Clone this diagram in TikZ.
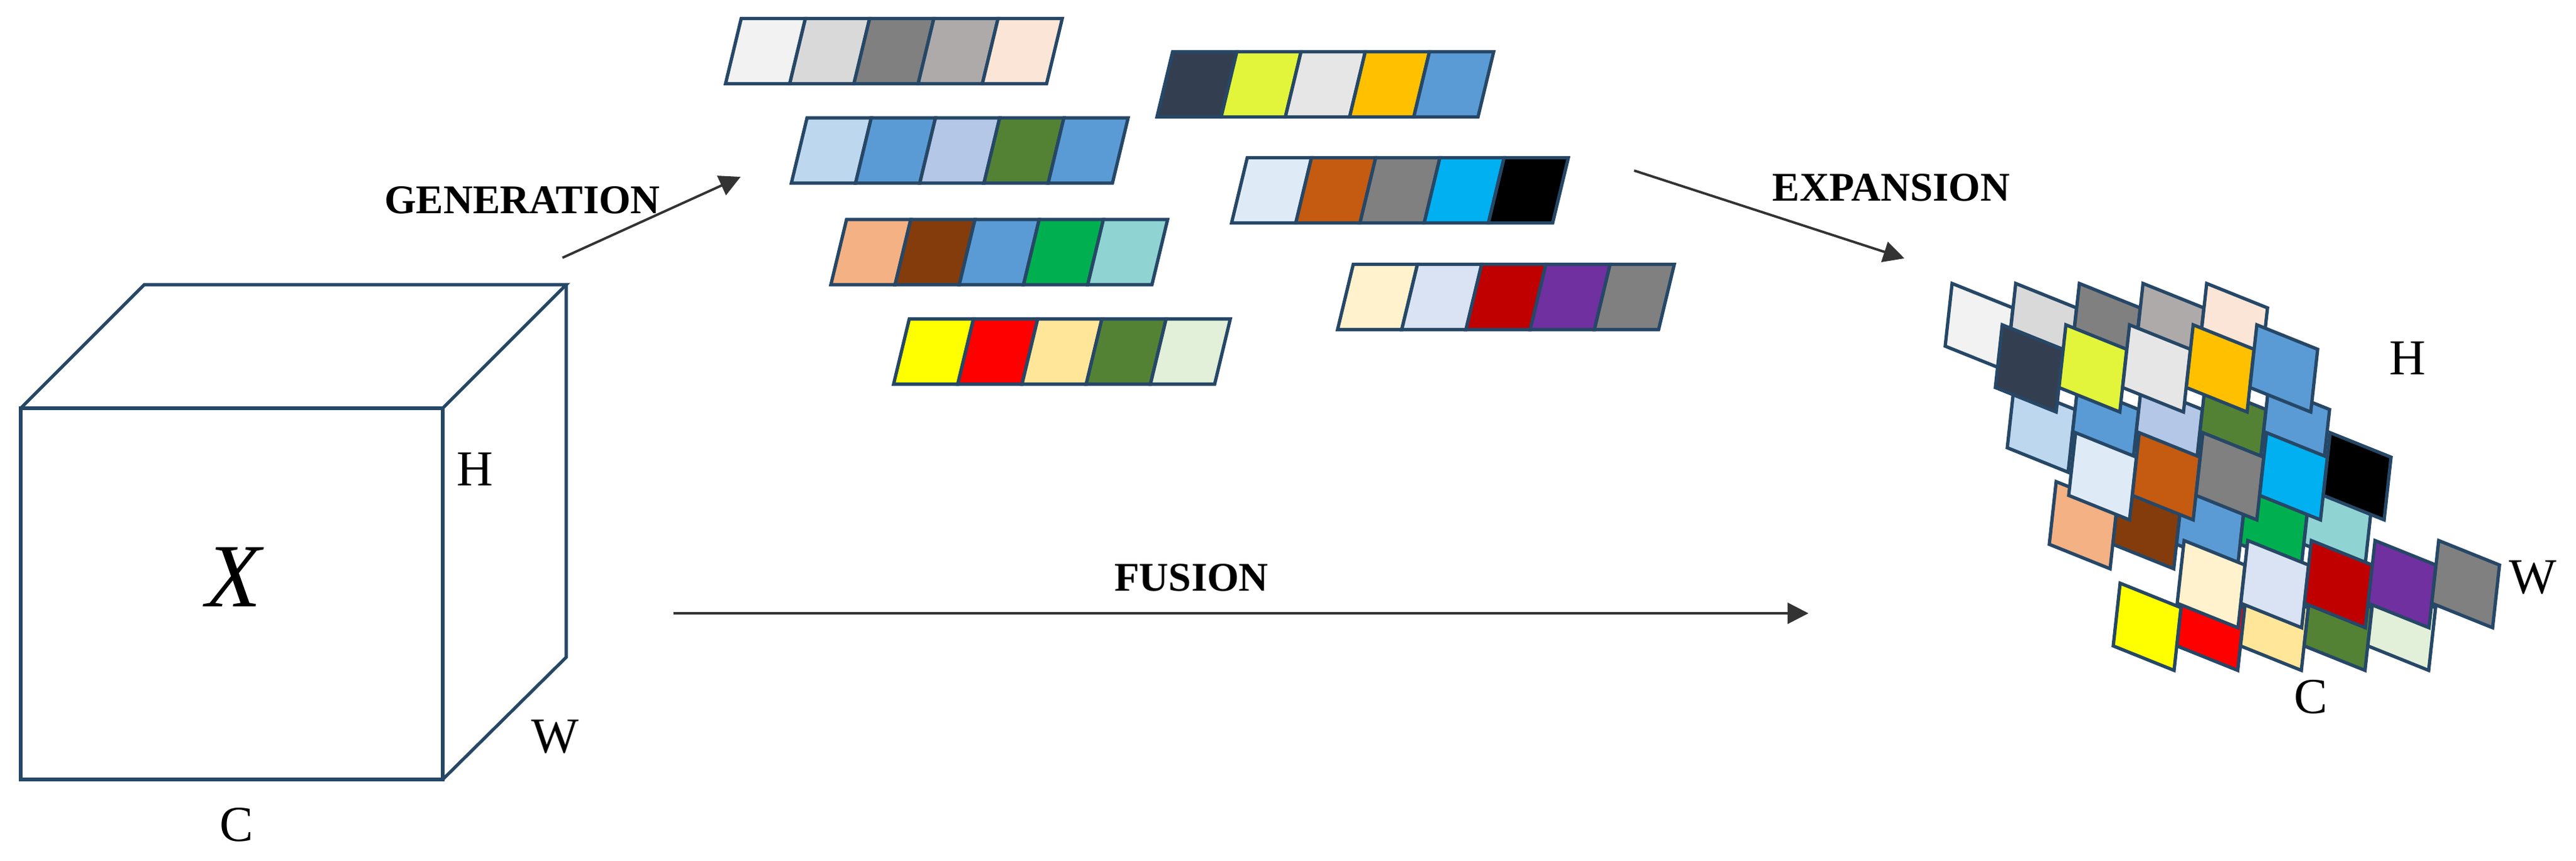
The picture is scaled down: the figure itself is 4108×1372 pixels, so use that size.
\documentclass[tikz,border=0pt]{standalone}
\usepackage{fontspec}
\setmainfont{Liberation Serif}
\usetikzlibrary{arrows.meta,calc}
\definecolor{edge}{HTML}{264766}
\definecolor{arrc}{HTML}{333333}
\definecolor{cFtwo}{HTML}{F2F2F2}
\definecolor{cDnine}{HTML}{D9D9D9}
\definecolor{cEighty}{HTML}{808080}
\definecolor{cAE}{HTML}{AEAAAA}
\definecolor{cFB}{HTML}{FBE5D6}
\definecolor{cBD}{HTML}{BDD7EE}
\definecolor{cFiveB}{HTML}{5B9BD5}
\definecolor{cBfour}{HTML}{B4C7E7}
\definecolor{cFiftyfour}{HTML}{548235}
\definecolor{cFfour}{HTML}{F4B183}
\definecolor{cEightfour}{HTML}{843C0C}
\definecolor{cGreen}{HTML}{00B050}
\definecolor{cTeal}{HTML}{90D3D3}
\definecolor{cYellow}{HTML}{FFFF00}
\definecolor{cRed}{HTML}{FF0000}
\definecolor{cFE}{HTML}{FFE699}
\definecolor{cEtwo}{HTML}{E2F0D9}
\definecolor{cNavy}{HTML}{333F50}
\definecolor{cLime}{HTML}{E2F53A}
\definecolor{cEseven}{HTML}{E7E6E6}
\definecolor{cGold}{HTML}{FFC000}
\definecolor{cDE}{HTML}{DEEBF7}
\definecolor{cCfive}{HTML}{C55A11}
\definecolor{cCyan}{HTML}{00B0F0}
\definecolor{cBlack}{HTML}{000000}
\definecolor{cCream}{HTML}{FFF2CC}
\definecolor{cDA}{HTML}{DAE3F3}
\definecolor{cCzero}{HTML}{C00000}
\definecolor{cPurple}{HTML}{7030A0}
\newcommand{\mystrip}[3]{%
  \foreach \cc [count=\ii from 0] in {#3}{%
    \draw[cellst, fill=\cc] ({#1+\ii*102.4},#2) -- ++(102.4,0) -- ++(25,-104) -- ++(-102.4,0) -- cycle;
  }}
\newcommand{\mytrow}[3]{%
  \foreach \cc [count=\ii from 0] in {#3}{%
    \draw[cellst, fill=\cc] ({#1+\ii*101.5},#2) -- ++(97,39) -- ++(-11,100) -- ++(-97,-39) -- cycle;
  }}
\begin{document}
\begin{tikzpicture}[x=0.01cm,y=-0.01cm,
  cellst/.style={draw=edge, line width=1.5pt, line join=miter},
  cubest/.style={draw=edge, line width=1.45pt, line join=miter},
  arr/.style={draw=arrc, line width=1.1pt, -{Triangle[length=9.5pt,width=9.5pt]}},
  oplabel/.style={font=\fontsize{18.5pt}{20pt}\selectfont\bfseries, inner sep=0pt},
  dimlabel/.style={font=\fontsize{22.8pt}{24pt}\selectfont, inner sep=0pt}]
\fill[white] (0,0) rectangle (4108,1372);
\useasboundingbox (0,0) rectangle (4108,1372);

% ---- cube X ----
\coordinate (fbl) at (33,1243);
\coordinate (ftl) at (33,651);
\coordinate (ftr) at (706,651);
\coordinate (fbr) at (706,1243);
\coordinate (btl) at (230,454);
\coordinate (btr) at (903,454);
\coordinate (bbr) at (903,1048);
\draw[cubest] (fbl) rectangle (ftr);
\draw[cubest] (ftl) -- (btl) -- (btr) -- (ftr);
\draw[cubest] (btr) -- (bbr) -- (fbr);
\node[font=\fontsize{41pt}{44pt}\selectfont\itshape, inner sep=0pt] (xlab) at (373,920) {X};
\node[dimlabel] (hcube) at (757,748) {H};
\node[dimlabel] (wcube) at (885,1175) {W};
\node[dimlabel] (ccube) at (377,1315) {C};

% ---- strips ----
\mystrip{1157}{133.5}{cFtwo,cDnine,cEighty,cAE,cFB}
\mystrip{1262}{292}{cBD,cFiveB,cBfour,cFiftyfour,cFiveB}
\mystrip{1325}{454}{cFfour,cEightfour,cFiveB,cGreen,cTeal}
\mystrip{1425}{612.6}{cYellow,cRed,cFE,cFiftyfour,cEtwo}
\mystrip{1845}{186.5}{cNavy,cLime,cEseven,cGold,cFiveB}
\mystrip{1964}{355.6}{cDE,cCfive,cEighty,cCyan,cBlack}
\mystrip{2133}{525.6}{cCream,cDA,cCzero,cPurple,cEighty}

% ---- expanded stack ----
\mytrow{3113}{452}{cFtwo,cDnine,cEighty,cAE,cFB}
\mytrow{3212}{614}{cBD,cFiveB,cBfour,cFiftyfour,cFiveB}
\mytrow{3279}{768}{cFfour,cEightfour,cFiveB,cGreen,cTeal}
\mytrow{3381}{930}{cYellow,cRed,cFE,cFiftyfour,cEtwo}
\mytrow{3193}{518}{cNavy,cLime,cEseven,cGold,cFiveB}
\mytrow{3310}{690}{cDE,cCfive,cEighty,cCyan,cBlack}
\mytrow{3483}{862}{cCream,cDA,cCzero,cPurple,cEighty}
\node[dimlabel] (hstack) at (3839,571) {H};
\node[dimlabel] (wstack) at (4039,921) {W};
\node[dimlabel] (cstack) at (3685,1111) {C};

% ---- arrows ----
\coordinate (gs) at (897,411);
\coordinate (ge) at (1181,282);
\draw[arr] (gs) -- (ge);
\node[oplabel] (gen) at (833,319) {GENERATION};
\coordinate (es) at (2606,272);
\coordinate (ee) at (3037,412);
\draw[arr] (es) -- (ee);
\node[oplabel] (exp) at (3016,299) {EXPANSION};
\coordinate (fs) at (1074,978);
\coordinate (fe) at (2884,978);
\draw[arr] (fs) -- (fe);
\node[oplabel] (fus) at (1900,921) {FUSION};
\end{tikzpicture}
\end{document}
